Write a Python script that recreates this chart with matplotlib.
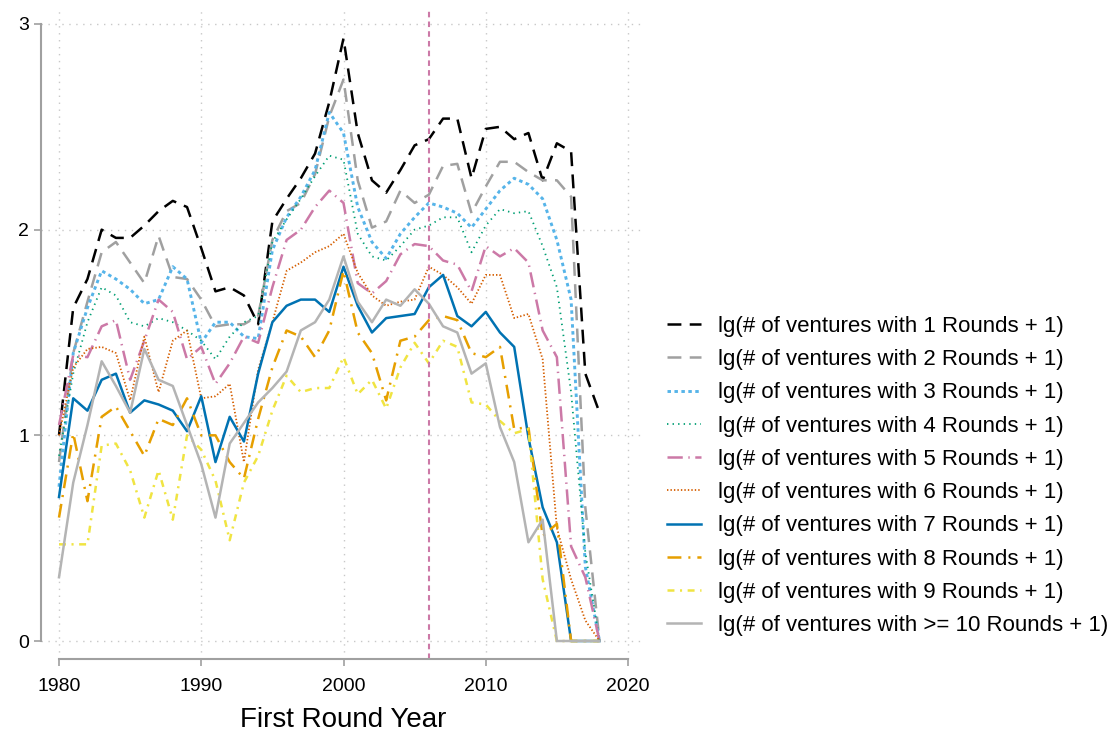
import matplotlib
matplotlib.use("Agg")
import matplotlib.pyplot as plt

plt.rcParams["font.family"] = ["Liberation Sans", "DejaVu Sans"]
plt.rcParams["lines.scale_dashes"] = False

YEARS = list(range(1980, 2019))
POLICY_YEAR = 2006

ROUNDS_1 = [1.00, 1.62, 1.76, 2.00, 1.96, 1.96, 2.02, 2.09, 2.14, 2.11,
            1.91, 1.70, 1.72, 1.68, 1.54, 2.04, 2.15, 2.25, 2.37, 2.62,
            2.93, 2.47, 2.24, 2.18, 2.29, 2.41, 2.44, 2.54, 2.54, 2.25,
            2.49, 2.50, 2.44, 2.47, 2.24, 2.42, 2.38, 1.30, 1.11]
ROUNDS_2 = [0.87, 1.40, 1.65, 1.89, 1.94, 1.84, 1.74, 1.97, 1.77, 1.76,
            1.66, 1.53, 1.54, 1.54, 1.58, 1.95, 2.09, 2.13, 2.27, 2.55,
            2.73, 2.24, 2.01, 2.04, 2.19, 2.13, 2.17, 2.31, 2.32, 2.08,
            2.21, 2.33, 2.33, 2.28, 2.24, 2.24, 2.16, 0.65, 0.00]
ROUNDS_3 = [0.75, 1.40, 1.62, 1.80, 1.76, 1.71, 1.64, 1.66, 1.82, 1.76,
            1.45, 1.55, 1.55, 1.48, 1.47, 1.90, 2.06, 2.16, 2.29, 2.57,
            2.47, 2.11, 1.94, 1.86, 1.98, 2.06, 2.13, 2.11, 2.08, 2.01,
            2.10, 2.19, 2.25, 2.22, 2.15, 1.95, 1.66, 0.36, 0.00]
ROUNDS_4 = [0.90, 1.30, 1.55, 1.72, 1.68, 1.55, 1.53, 1.57, 1.55, 1.51,
            1.46, 1.37, 1.48, 1.55, 1.58, 1.94, 2.05, 2.15, 2.26, 2.36,
            2.34, 1.98, 1.87, 1.85, 1.92, 2.00, 2.02, 2.06, 2.06, 1.89,
            2.02, 2.10, 2.08, 2.09, 1.92, 1.72, 1.21, 0.43, 0.00]
ROUNDS_5 = [1.05, 1.39, 1.38, 1.53, 1.56, 1.27, 1.46, 1.66, 1.60, 1.37,
            1.43, 1.25, 1.35, 1.48, 1.45, 1.72, 1.95, 2.00, 2.11, 2.19,
            2.13, 1.74, 1.69, 1.75, 1.88, 1.93, 1.92, 1.85, 1.83, 1.70,
            1.92, 1.87, 1.91, 1.84, 1.51, 1.38, 0.46, 0.31, 0.00]
ROUNDS_6 = [1.00, 1.33, 1.42, 1.43, 1.40, 1.17, 1.48, 1.21, 1.46, 1.51,
            1.18, 1.19, 1.25, 0.87, 1.32, 1.55, 1.80, 1.84, 1.89, 1.92,
            1.98, 1.79, 1.68, 1.63, 1.65, 1.66, 1.82, 1.78, 1.72, 1.64,
            1.78, 1.78, 1.57, 1.59, 1.37, 0.55, 0.30, 0.10, 0.00]
ROUNDS_7 = [0.70, 1.18, 1.12, 1.27, 1.30, 1.11, 1.17, 1.15, 1.12, 1.02,
            1.19, 0.87, 1.09, 0.97, 1.30, 1.55, 1.63, 1.66, 1.66, 1.60,
            1.82, 1.63, 1.50, 1.57, 1.58, 1.59, 1.72, 1.78, 1.58, 1.53,
            1.60, 1.50, 1.43, 0.99, 0.65, 0.48, 0.00, 0.00, 0.00]
ROUNDS_8 = [0.60, 1.01, 0.68, 1.09, 1.14, 1.02, 0.90, 1.08, 1.05, 1.18,
            1.00, 1.00, 0.87, 0.79, 1.08, 1.33, 1.51, 1.48, 1.38, 1.51,
            1.80, 1.50, 1.40, 1.17, 1.46, 1.48, 1.56, 1.58, 1.56, 1.40,
            1.38, 1.43, 1.03, 1.04, 0.51, 0.57, 0.00, 0.00, 0.00]
ROUNDS_9 = [0.47, 0.47, 0.47, 0.95, 0.96, 0.83, 0.60, 0.83, 0.59, 1.00,
            0.93, 0.78, 0.49, 0.77, 0.90, 1.12, 1.29, 1.21, 1.23, 1.23,
            1.38, 1.20, 1.27, 1.13, 1.33, 1.45, 1.35, 1.46, 1.43, 1.16,
            1.15, 1.07, 1.01, 1.03, 0.30, 0.00, 0.00, 0.00, 0.00]
ROUNDS_10 = [0.31, 0.77, 1.05, 1.36, 1.24, 1.11, 1.42, 1.27, 1.24, 1.05,
             0.86, 0.60, 0.96, 1.06, 1.16, 1.23, 1.31, 1.51, 1.55, 1.66,
             1.87, 1.65, 1.55, 1.66, 1.63, 1.71, 1.64, 1.53, 1.50, 1.30,
             1.35, 1.04, 0.87, 0.48, 0.59, 0.00, 0.00, 0.00, 0.00]

SERIES = [ROUNDS_1, ROUNDS_2, ROUNDS_3, ROUNDS_4, ROUNDS_5,
          ROUNDS_6, ROUNDS_7, ROUNDS_8, ROUNDS_9, ROUNDS_10]
LABELS = [f"lg(# of ventures with {n} Rounds + 1)" for n in range(1, 10)]
LABELS.append("lg(# of ventures with >= 10 Rounds + 1)")

# Stata plotplainblind-ish look: colour, dash pattern (points), width
STYLES = [
    ("#000000", (0, (10, 6)), 1.8),
    ("#a0a0a0", (0, (10, 6)), 1.8),
    ("#56B4E9", (0, (2.5, 2.5)), 2.1),
    ("#009E73", (0, (1, 3)), 1.3),
    ("#CC79A7", (0, (11, 4, 1, 4)), 1.8),
    ("#D55E00", (0, (1, 1.5)), 1.3),
    ("#0072B2", "-", 1.8),
    ("#E69F00", (0, (10, 5, 1.5, 5)), 1.8),
    ("#F0E442", (0, (5, 4, 1.5, 4)), 1.8),
    ("#b4b4b4", "-", 1.8),
]

fig = plt.figure(figsize=(11.13, 7.35), dpi=100)
ax = fig.add_axes([41 / 1113, 1 - 659 / 735, (645 - 41) / 1113, (659 - 8) / 735])

for values, label, (color, ls, lw) in zip(SERIES, LABELS, STYLES):
    ax.plot(YEARS, values, color=color, linestyle=ls, linewidth=lw, label=label)

ax.axvline(POLICY_YEAR, color="#CC79A7", linestyle=(0, (4, 3)), linewidth=1.5)

ax.set_xlim(1980 - 18 / 14.225, 2020 + 17 / 14.225)
ax.set_ylim(-18 / 205.67, 3 + 16 / 205.67)
ax.set_xticks([1980, 1990, 2000, 2010, 2020])
ax.set_yticks([0, 1, 2, 3])
ax.grid(True, color="#c8c8c8", linestyle=(0, (1, 4)), linewidth=1.0)
ax.set_axisbelow(True)

for side in ("top", "right"):
    ax.spines[side].set_visible(False)
for side in ("left", "bottom"):
    ax.spines[side].set_color("#a0a0a0")
    ax.spines[side].set_linewidth(1.5)
ax.spines["left"].set_bounds(0, 3)
ax.spines["bottom"].set_bounds(1980, 2020)
ax.tick_params(colors="#a0a0a0", labelcolor="black", labelsize=14, length=5, width=1.2)
ax.tick_params(axis="x", pad=9)

ax.set_xlabel("First Round Year", fontsize=20, labelpad=8)

fig.legend(loc="center left", bbox_to_anchor=(667 / 1113, 1 - 476 / 735),
           frameon=False, fontsize=16, borderpad=0, borderaxespad=0,
           handlelength=1.55, handletextpad=0.75, labelspacing=0.55)

fig.savefig("out.png", dpi=100)
